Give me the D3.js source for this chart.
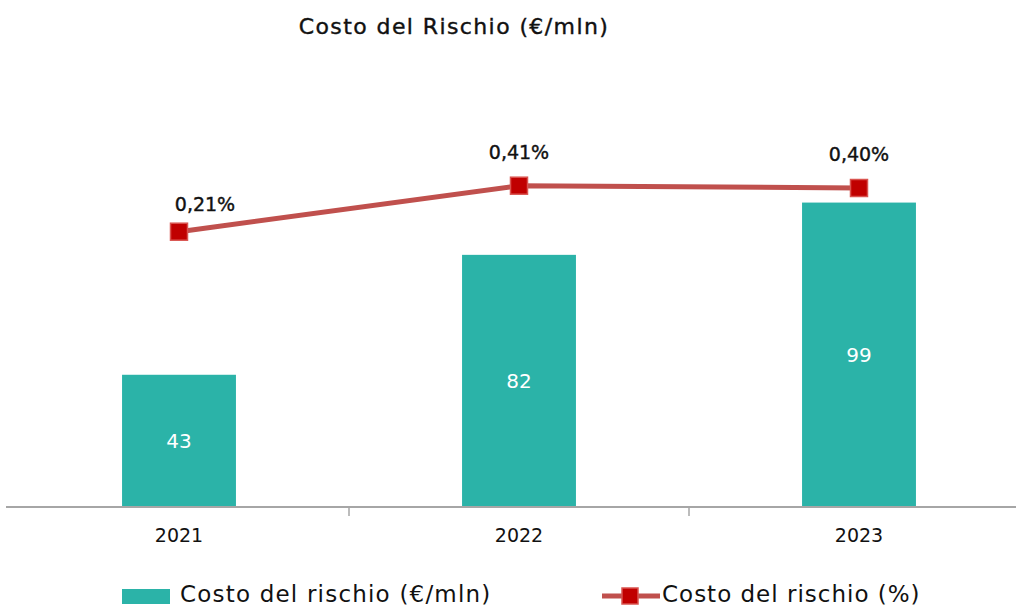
<!DOCTYPE html>
<html>
<head>
<meta charset="utf-8">
<script src="https://cdn.jsdelivr.net/npm/d3@7"></script>
<style>
  body { margin: 0; background: #fff; }
  svg { display: block; font-family: "DejaVu Sans", "Noto Sans", sans-serif; }
</style>
</head>
<body>
<script>
const years = ['2021', '2022', '2023'];
const costoMln = [43, 82, 99];
const costoPct = [0.21, 0.41, 0.40];
const pctLabels = ['0,21%', '0,41%', '0,40%'];

const w = 1016, h = 606;
const barColor = '#2BB3A8';
const lineColor = '#C0504D';
const markerColor = '#C00000';

const svg = d3.select('body').append('svg')
  .attr('width', w)
  .attr('height', h);

// scales
const x = d3.scaleBand()
  .domain(years)
  .range([9, 1029])
  .paddingInner(0.665)
  .paddingOuter(0.3325);

const y = d3.scaleLinear()
  .domain([0, 120])
  .range([507, 138]);

const y2 = d3.scaleLinear()
  .domain([0, 0.5])
  .range([280, 165]);

// title
svg.append('text')
  .attr('x', 454)
  .attr('y', 34)
  .attr('text-anchor', 'middle')
  .attr('font-size', 22)
  .attr('letter-spacing', 1.4)
  .attr('fill', '#111')
  .attr('stroke', '#111')
  .attr('stroke-width', 0.4)
  .text('Costo del Rischio (€/mln)');

// bars
svg.append('g')
  .selectAll('rect')
  .data(years)
  .join('rect')
  .attr('x', d => x(d))
  .attr('width', x.bandwidth())
  .attr('y', (d, i) => y(costoMln[i]))
  .attr('height', (d, i) => y(0) - y(costoMln[i]))
  .attr('fill', barColor);

svg.append('g')
  .selectAll('text')
  .data(years)
  .join('text')
  .attr('x', d => x(d) + x.bandwidth() / 2)
  .attr('y', (d, i) => (y(costoMln[i]) + y(0)) / 2 + 7)
  .attr('text-anchor', 'middle')
  .attr('font-size', 20)
  .attr('fill', '#fff')
  .text((d, i) => costoMln[i]);

// axis
const step = x.step();
const axis = svg.append('g');
axis.append('line')
  .attr('x1', 6).attr('x2', w)
  .attr('y1', y(0)).attr('y2', y(0))
  .attr('stroke', '#a6a6a6')
  .attr('stroke-width', 2);
axis.selectAll('.tick')
  .data(years.slice(1))
  .join('line')
  .attr('x1', d => x(d) + x.bandwidth() / 2 - step / 2)
  .attr('x2', d => x(d) + x.bandwidth() / 2 - step / 2)
  .attr('y1', y(0)).attr('y2', y(0) + 9)
  .attr('stroke', '#a6a6a6')
  .attr('stroke-width', 1.5);
axis.selectAll('text')
  .data(years)
  .join('text')
  .attr('x', d => x(d) + x.bandwidth() / 2)
  .attr('y', 542)
  .attr('text-anchor', 'middle')
  .attr('font-size', 19)
  .attr('fill', '#111')
  .text(d => d);

// line
const pts = years.map((d, i) => [x(d) + x.bandwidth() / 2, y2(costoPct[i])]);
svg.append('path')
  .attr('d', d3.line()(pts))
  .attr('fill', 'none')
  .attr('stroke', lineColor)
  .attr('stroke-width', 5);

svg.append('g')
  .selectAll('rect')
  .data(pts)
  .join('rect')
  .attr('x', d => d[0] - 8.5)
  .attr('y', d => d[1] - 8.5)
  .attr('width', 17)
  .attr('height', 17)
  .attr('fill', markerColor)
  .attr('stroke', '#d9534f')
  .attr('stroke-width', 1.5);

svg.append('g')
  .selectAll('text')
  .data(pts)
  .join('text')
  .attr('x', (d, i) => d[0] + (i === 0 ? 26 : 0))
  .attr('y', (d, i) => d[1] - (i === 0 ? 21 : 27))
  .attr('text-anchor', 'middle')
  .attr('font-size', 19)
  .attr('fill', '#111')
  .attr('stroke', '#111')
  .attr('stroke-width', 0.4)
  .text((d, i) => pctLabels[i]);

// legend
const lg = svg.append('g');
lg.append('rect')
  .attr('x', 122).attr('y', 589)
  .attr('width', 48).attr('height', 15)
  .attr('fill', barColor);
lg.append('text')
  .attr('x', 180).attr('y', 602)
  .attr('font-size', 23)
  .attr('letter-spacing', 1.2)
  .attr('fill', '#111')
  .text('Costo del rischio (€/mln)');
lg.append('line')
  .attr('x1', 602).attr('x2', 660)
  .attr('y1', 596).attr('y2', 596)
  .attr('stroke', lineColor)
  .attr('stroke-width', 5);
lg.append('rect')
  .attr('x', 622).attr('y', 588)
  .attr('width', 16).attr('height', 16)
  .attr('fill', markerColor)
  .attr('stroke', '#d9534f')
  .attr('stroke-width', 1.5);
lg.append('text')
  .attr('x', 662).attr('y', 602)
  .attr('font-size', 23)
  .attr('letter-spacing', 1)
  .attr('fill', '#111')
  .text('Costo del rischio (%)');
</script>
</body>
</html>
